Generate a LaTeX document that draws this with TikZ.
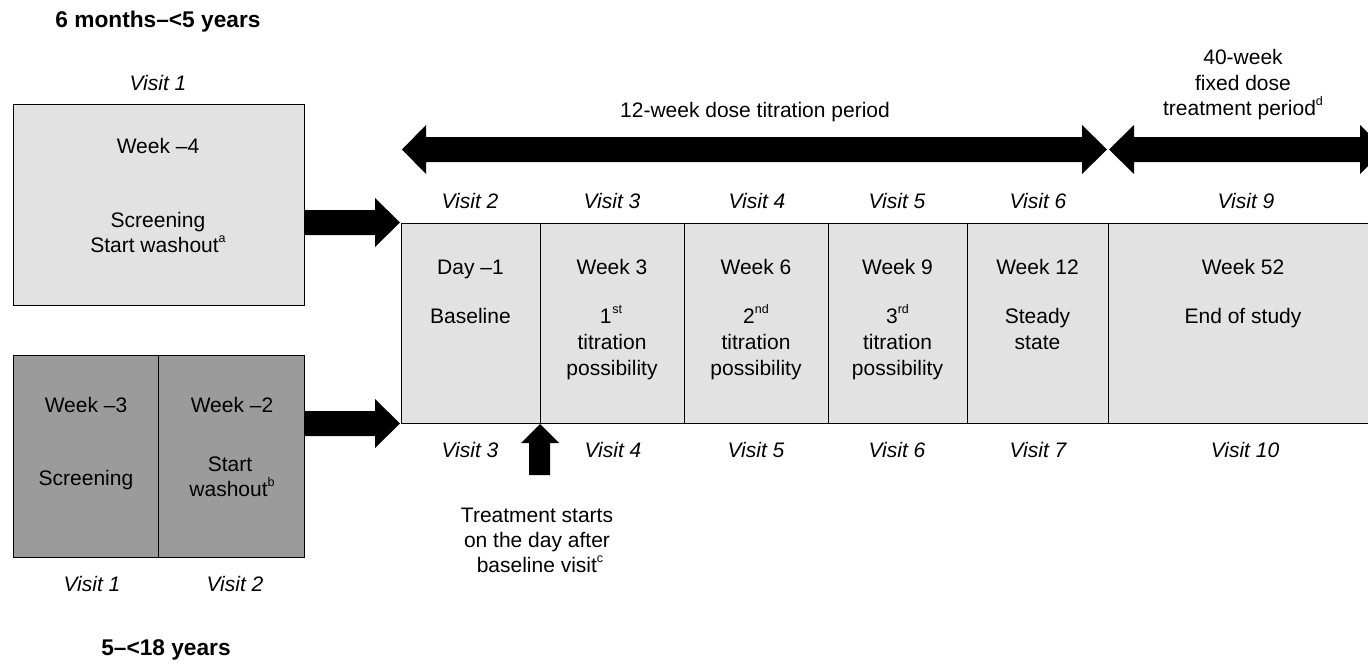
\documentclass[tikz,border=0pt]{standalone}
\usepackage{fontspec}
\setmainfont{Liberation Sans}
\definecolor{lightbox}{HTML}{E2E2E2}
\definecolor{darkbox}{HTML}{9B9B9B}
\newcommand\sups[1]{\raisebox{0.45em}{\fontsize{12.5}{12.5}\selectfont #1}}
\begin{document}
\begin{tikzpicture}[x=1pt,y=-1pt,
  every node/.style={font=\fontsize{21}{25}\selectfont},
  txt/.style={anchor=base, inner sep=0pt},
  itx/.style={txt, font=\fontsize{21}{25}\selectfont\itshape},
  btx/.style={txt, font=\fontsize{22.7}{25}\selectfont\bfseries},
  box/.style={draw, line width=1.4pt, anchor=north west, inner sep=0pt, minimum height=200pt},
  lbox/.style={box, fill=lightbox},
  dbox/.style={box, fill=darkbox, minimum height=202pt},
  blockarrow/.style={fill=black}
]
\useasboundingbox (0,0) rectangle (1368,664);
\clip (0,0) rectangle (1368,664);

% titles
\node[btx] (t1) at (158,27) {6 months–<5 years};
\node[btx] (t2) at (166,655) {5–<18 years};

% block arrows
\fill[blockarrow] (304,210) -- (375,210) -- (375,198) -- (400,222.5) -- (375,247) -- (375,235) -- (304,235) -- cycle;
\fill[blockarrow] (304,411) -- (375,411) -- (375,399) -- (400,423.5) -- (375,448) -- (375,436) -- (304,436) -- cycle;
\fill[blockarrow] (402,149.5) -- (426,125) -- (426,137) -- (1082,137) -- (1082,125) -- (1107,149.5) -- (1082,174) -- (1082,162) -- (426,162) -- (426,174) -- cycle;
\fill[blockarrow] (1109,149.5) -- (1134,125) -- (1134,137) -- (1360,137) -- (1360,125) -- (1385,149.5) -- (1360,174) -- (1360,162) -- (1134,162) -- (1134,174) -- cycle;

% top-left box (6 months - <5 years)
\node[lbox, minimum width=291pt, minimum height=201pt] (w4) at (13,104) {};
\node[itx] (w4v) at (158,90) {Visit 1};
\node[txt] (w4a) at (158,153) {Week –4};
\node[txt] (w4b) at (158,227) {Screening};
\node[txt] (w4c) at (158,252) {Start washout\sups{a}};

% bottom-left boxes (5 - <18 years)
\node[dbox, minimum width=145pt] (w3) at (13,355) {};
\node[dbox, minimum width=146pt] (w2) at (158,355) {};
\node[txt] (w3a) at (86,412) {Week –3};
\node[txt] (w3b) at (86,485) {Screening};
\node[txt] (w2a) at (232,412) {Week –2};
\node[txt] (w2b) at (230,471) {Start};
\node[txt] (w2c) at (232,496) {washout\sups{b}};
\node[itx] (w3v) at (92,591) {Visit 1};
\node[itx] (w2v) at (235,591) {Visit 2};

% main row
\node[lbox, minimum width=139pt] (b1) at (401,223) {};
\node[lbox, minimum width=144pt] (b2) at (540,223) {};
\node[lbox, minimum width=144pt] (b3) at (684,223) {};
\node[lbox, minimum width=139pt] (b4) at (828,223) {};
\node[lbox, minimum width=141pt] (b5) at (967,223) {};
\node[lbox, minimum width=275pt] (b6) at (1108,223) {};

% period labels
\node[txt] (p12) at (755,117) {12-week dose titration period};
\node[txt] (p40a) at (1243,64) {40-week};
\node[txt] (p40b) at (1243,90) {fixed dose};
\node[txt] (p40c) at (1243,115) {treatment period\sups{d}};

% visits above
\node[itx] (va1) at (470,208) {Visit 2};
\node[itx] (va2) at (612,208) {Visit 3};
\node[itx] (va3) at (757,208) {Visit 4};
\node[itx] (va4) at (897,208) {Visit 5};
\node[itx] (va5) at (1038,208) {Visit 6};
\node[itx] (va6) at (1246,208) {Visit 9};

% visits below
\node[itx] (vb1) at (470,457) {Visit 3};
\node[itx] (vb2) at (613,457) {Visit 4};
\node[itx] (vb3) at (756,457) {Visit 5};
\node[itx] (vb4) at (897,457) {Visit 6};
\node[itx] (vb5) at (1038,457) {Visit 7};
\node[itx] (vb6) at (1245,457) {Visit 10};

% box texts
\node[txt] (b1a) at (470.5,274) {Day –1};
\node[txt] (b1b) at (470.5,323) {Baseline};
\node[txt] (b2a) at (612,274) {Week 3};
\node[txt] (b2b) at (611,323) {1\kern1pt\sups{st}};
\node[txt] (b2c) at (612,349) {titration};
\node[txt] (b2d) at (612,375) {possibility};
\node[txt] (b3a) at (756,274) {Week 6};
\node[txt] (b3b) at (756,323) {2\sups{nd}};
\node[txt] (b3c) at (756,349) {titration};
\node[txt] (b3d) at (756,375) {possibility};
\node[txt] (b4a) at (897.5,274) {Week 9};
\node[txt] (b4b) at (897.5,323) {3\sups{rd}};
\node[txt] (b4c) at (897.5,349) {titration};
\node[txt] (b4d) at (897.5,375) {possibility};
\node[txt] (b5a) at (1037.5,274) {Week 12};
\node[txt] (b5b) at (1037.5,323) {Steady};
\node[txt] (b5c) at (1037.5,349) {state};
\node[txt] (b6a) at (1243,274) {Week 52};
\node[txt] (b6b) at (1243,323) {End of study};

% treatment start arrow
\fill[blockarrow] (540,424) -- (559,443) -- (550,443) -- (550,475) -- (529,475) -- (529,443) -- (521,443) -- cycle;
\node[txt] (ts1) at (537,522) {Treatment starts};
\node[txt] (ts2) at (537,547) {on the day after};
\node[txt] (ts3) at (540,572) {baseline visit\sups{c}};
\end{tikzpicture}
\end{document}
